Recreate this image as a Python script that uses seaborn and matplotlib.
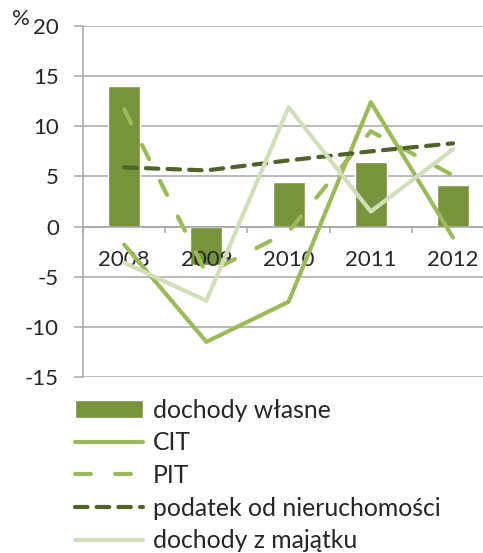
import pandas as pd
import matplotlib
matplotlib.use("Agg")
import matplotlib.pyplot as plt
import seaborn as sns

# data (% change year on year)
years = ["2008", "2009", "2010", "2011", "2012"]
dochody_wlasne = [14.0, -3.8, 4.4, 6.4, 4.1]
cit = [-1.8, -11.5, -7.5, 12.4, -1.1]
pit = [11.7, -4.7, -0.5, 9.5, 5.1]
podatek_nieruch = [5.9, 5.6, 6.6, 7.5, 8.3]
dochody_majatek = [-3.6, -7.4, 11.9, 1.5, 7.7]

sns.set_style("white")
plt.rcParams["font.family"] = ["Lato", "DejaVu Sans"]
plt.rcParams["axes.unicode_minus"] = False

grid_col = "#A6A6A6"

fig = plt.figure(figsize=(4.83, 5.53), dpi=100)
ax = fig.add_axes([0.172, 0.3183, 0.851, 0.6347])

df = pd.DataFrame({"rok": years, "wartosc": dochody_wlasne})
sns.barplot(data=df, x="rok", y="wartosc", color="#77933C", saturation=1,
            width=0.39, ax=ax, label="dochody własne", zorder=2)

# lines on the same categorical positions as the bars
pos = range(len(years))
ax.plot(pos, cit, color="#9BBB59", lw=3, label="CIT", zorder=3,
        solid_capstyle="round")
ax.plot(pos, pit, color="#9BBB59", lw=3, label="PIT", zorder=3,
        dashes=(3.8, 5.8), dash_capstyle="round")
ax.plot(pos, podatek_nieruch, color="#4F6228", lw=3,
        label="podatek od nieruchomości", zorder=3,
        dashes=(3.0, 2.2), dash_capstyle="round")
ax.plot(pos, dochody_majatek, color="#D0DFBA", lw=3,
        label="dochody z majątku", zorder=3, solid_capstyle="round")

ax.set_xlim(-0.5, 4.5)
ax.set_ylim(-15, 20)
ax.set_yticks(range(-15, 21, 5))
ax.yaxis.grid(True, color=grid_col, lw=1.1)
ax.set_xlabel("")
ax.set_ylabel("")
# grid under the bars, year labels over the bars
ax.yaxis.set_zorder(0.5)
ax.xaxis.set_zorder(2.5)

for s in ["top", "right"]:
    ax.spines[s].set_visible(False)
ax.spines["left"].set_color(grid_col)
ax.spines["left"].set_linewidth(1.1)
ax.spines["bottom"].set_position(("data", 0))
ax.spines["bottom"].set_color(grid_col)
ax.spines["bottom"].set_linewidth(1.1)

ax.tick_params(axis="y", length=6.5, width=1.1, color=grid_col, pad=11,
               labelsize=16, left=True)
ax.set_xticks([i - 0.5 for i in range(6)], minor=True)
ax.tick_params(axis="x", which="major", length=0, pad=17, labelsize=16)
ax.tick_params(axis="x", which="minor", length=4, width=1.1, color=grid_col,
               bottom=True)

fig.text(0.043, 0.965, "%", fontsize=16, ha="center", va="center")

handles, labels = ax.get_legend_handles_labels()
if ax.get_legend() is not None:
    ax.get_legend().remove()
# bars first, then the lines
order = [labels.index(l) for l in ["dochody własne", "CIT", "PIT",
                                   "podatek od nieruchomości",
                                   "dochody z majątku"]]
fig.legend([handles[i] for i in order], [labels[i] for i in order],
           loc="upper left", bbox_to_anchor=(0.155, 0.279),
           bbox_transform=fig.transFigure, frameon=False, fontsize=17.8,
           borderpad=0, borderaxespad=0, handlelength=2.75,
           handletextpad=0.4, labelspacing=0.39)

fig.savefig("out.png", dpi=100)
